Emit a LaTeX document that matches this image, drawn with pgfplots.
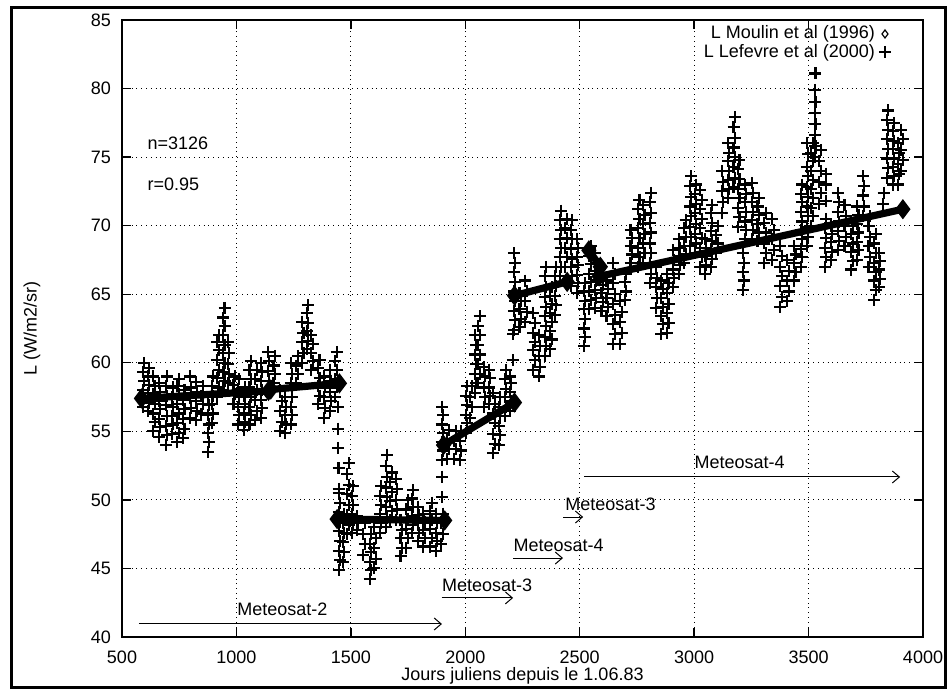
\documentclass[border=0pt]{standalone}
\usepackage{fontspec}
\setmainfont{Liberation Sans}
\usepackage{pgfplots}
\pgfplotsset{compat=1.18}
\usetikzlibrary{arrows.meta}

\begin{document}
\begin{tikzpicture}
\begin{axis}[
  scale only axis, width=400.5pt, height=308.5pt,
  xmin=500, xmax=4000, ymin=40, ymax=85,
  xtick={500,1000,...,4000}, ytick={40,45,...,85},
  grid=major, grid style={black, dotted, line width=0.5pt},
  tick align=inside, major tick length=4.5pt,
  tick style={black, line width=0.7pt},
  axis line style={line width=1pt},
  /pgf/number format/assume math mode=true,
  /pgf/number format/1000 sep={},
  ticklabel style={font=\fontsize{9}{10}\selectfont},
  xticklabel style={yshift=-3.5pt},
  yticklabel style={xshift=-2pt},
  xlabel={Jours juliens depuis le 1.06.83},
  ylabel={L (W/m2/sr)},
  xlabel style={font=\fontsize{9}{10}\selectfont, at={(axis description cs:0.5,0)}, anchor=north, yshift=-11.5pt},
  ylabel style={font=\fontsize{9}{10}\selectfont, at={(axis description cs:0,0.5)}, anchor=center, rotate=0, yshift=45pt},
  legend plot pos=right, legend cell align=right,
  legend style={draw=none, fill=none, at={(0.968,1.004)}, anchor=north east,
    font=\fontsize{9}{10}\selectfont, row sep=-3pt},
  clip=false,
]
\addlegendimage{only marks, mark=diamond, mark size=2pt, black, mark options={line width=0.6pt}}
\addlegendentry{L Moulin et al (1996)}
\addlegendimage{only marks, mark=+, mark size=3pt, black, mark options={line width=0.6pt}}
\addlegendentry{L Lefevre et al (2000)}

% Lefevre et al (2000)
\addplot[only marks, mark=+, mark size=3pt, black, mark options={line width=1.05pt}, forget plot] coordinates {
(592,56.8)(598,57.4)(592,58.0)(598,58.7)(592,59.3)(598,60.0)
(612,56.5)(618,57.1)(612,57.8)(618,58.4)(612,59.0)(618,59.6)
(637,55.0)(643,55.7)(637,56.3)(643,57.0)(637,57.7)(643,58.3)(637,59.0)
(662,54.6)(668,55.3)(662,55.9)(668,56.6)(662,57.2)(668,57.9)(662,58.5)
(692,54.0)(698,54.7)(692,55.4)(698,56.1)(692,56.9)(698,57.6)(692,58.3)(698,59.0)
(717,54.8)(723,55.5)(717,56.1)(723,56.8)(717,57.5)(723,58.2)
(742,54.2)(748,54.9)(742,55.6)(748,56.3)(742,57.0)(748,57.7)(742,58.3)(748,58.8)
(767,54.5)(773,55.2)(767,55.9)(773,56.6)(767,57.3)(773,58.0)
(797,56.0)(803,56.7)(797,57.4)(803,58.2)(797,59.0)
(822,55.8)(828,56.5)(822,57.2)(828,57.9)(822,58.6)
(847,56.3)(853,57.0)(847,57.6)(853,58.3)
(875,53.5)(879,54.2)(875,54.9)(879,55.5)(875,56.2)(879,56.9)(875,57.5)
(892,55.6)(898,56.3)(892,57.0)(898,57.6)(892,58.3)(898,59.0)
(917,57.5)(923,58.2)(917,58.9)(923,59.5)(917,60.2)(923,60.9)(917,61.5)(923,62.0)
(942,58.0)(948,58.7)(942,59.3)(948,60.0)(942,60.7)(948,61.3)(942,62.0)(948,62.7)(942,63.3)(948,64.0)
(962,58.5)(968,59.2)(962,59.9)(968,60.7)(962,61.5)
(987,57.0)(993,57.7)(987,58.4)(993,59.0)
(1007,55.5)(1013,56.2)(1007,56.8)(1013,57.5)(1007,58.1)(1013,58.8)
(1032,55.1)(1038,55.7)(1032,56.3)(1038,57.0)(1032,57.6)(1038,58.2)
(1057,55.5)(1063,56.2)(1057,56.8)(1063,57.5)(1057,58.2)(1063,58.8)(1057,59.5)(1063,60.1)
(1082,55.8)(1088,56.5)(1082,57.3)(1088,58.0)(1082,58.8)(1088,59.5)
(1107,56.0)(1113,56.7)(1107,57.3)(1113,58.0)(1107,58.7)(1113,59.3)(1107,60.0)
(1137,58.0)(1143,58.7)(1137,59.4)(1143,60.1)(1137,60.8)
(1162,58.5)(1168,59.2)(1162,59.8)(1168,60.5)
(1192,55.0)(1198,55.7)(1192,56.5)(1198,57.2)(1192,58.0)
(1212,54.9)(1218,55.5)(1212,56.2)(1218,56.8)(1212,57.5)
(1237,55.5)(1243,56.2)(1237,56.8)(1243,57.5)(1237,58.5)(1243,59.2)(1237,60.0)
(1262,58.5)(1268,59.2)(1262,59.8)(1268,60.5)
(1287,60.0)(1293,60.7)(1287,61.5)(1293,62.2)(1287,63.0)
(1307,61.0)(1313,61.6)(1307,62.3)(1313,62.9)(1307,63.6)(1313,64.2)
(1327,59.5)(1333,60.1)(1327,60.7)(1333,61.4)(1327,62.0)
(1357,57.0)(1363,57.6)(1357,58.3)(1363,58.9)(1357,59.6)(1363,60.2)
(1382,56.0)(1388,56.7)(1382,57.5)(1388,58.2)(1382,59.0)
(1407,56.5)(1413,57.2)(1407,57.9)(1413,58.7)(1407,59.5)
(1432,57.5)(1438,58.2)(1432,58.8)(1438,59.5)(1432,60.1)(1438,60.8)
(1442,56.8)(1444,55.2)(1445,53.8)(1446,52.3)(1447,50.8)
(1447,44.9)(1453,45.6)(1447,46.3)(1453,47.0)(1447,47.7)(1453,48.4)(1447,49.1)(1453,49.8)(1447,50.5)
(1465,45.5)(1471,46.2)(1465,46.9)(1471,47.6)(1465,48.3)(1471,49.0)
(1484,47.5)(1490,48.2)(1484,48.9)(1490,49.6)(1484,50.4)(1490,51.1)(1484,51.9)(1490,52.7)
(1504,47.6)(1510,48.3)(1504,49.0)(1510,49.6)(1504,50.3)(1510,51.0)
(1527,47.8)(1533,48.3)(1527,48.8)
(1555,46.0)(1561,46.8)(1555,47.5)(1561,48.3)
(1582,44.2)(1588,44.9)(1582,45.5)(1588,46.2)(1582,46.8)(1588,47.5)
(1602,45.0)(1608,45.7)(1602,46.5)(1608,47.2)(1602,48.0)
(1627,47.6)(1633,48.3)(1627,49.0)(1633,49.6)(1627,50.3)(1633,51.0)
(1652,48.0)(1658,48.7)(1652,49.5)(1658,50.2)(1652,50.9)(1658,51.7)(1652,52.5)(1658,53.3)
(1672,48.5)(1678,49.2)(1672,49.9)(1678,50.6)(1672,51.3)(1678,52.0)
(1697,48.5)(1703,49.3)(1697,50.0)(1703,50.8)(1697,51.5)
(1717,45.9)(1723,46.5)(1717,47.2)(1723,47.8)(1717,48.5)
(1742,46.5)(1748,47.2)(1742,47.9)(1748,48.6)(1742,49.3)(1748,50.0)
(1767,47.6)(1773,48.2)(1767,48.8)(1773,49.5)(1767,50.1)(1773,50.7)
(1792,47.0)(1798,47.6)(1792,48.3)(1798,48.9)(1792,49.5)
(1817,46.6)(1823,47.2)(1817,47.8)(1823,48.4)(1817,49.0)
(1847,46.6)(1853,47.2)(1847,47.9)(1853,48.5)(1847,49.2)(1853,49.8)
(1872,46.3)(1878,47.0)(1872,47.6)(1878,48.3)(1872,49.0)
(1895,46.8)(1901,47.5)(1895,48.3)(1901,49.0)
(1897,50.2)(1899,51.7)
(1897,52.9)(1903,53.6)(1897,54.2)(1903,54.9)(1897,55.5)(1903,56.2)(1900,56.8)
(1922,53.0)(1928,53.7)(1922,54.4)(1928,55.1)
(1952,53.0)(1958,53.7)(1952,54.3)(1958,55.0)
(1977,52.9)(1983,53.6)(1977,54.3)(1983,55.0)
(2002,54.9)(2008,55.6)(2002,56.2)(2008,56.9)(2002,57.6)(2008,58.3)
(2022,56.0)(2028,56.8)(2022,57.5)(2028,58.3)
(2042,57.8)(2048,58.5)(2042,59.2)(2048,59.9)(2042,60.6)(2048,61.3)(2042,62.0)
(2057,58.5)(2063,59.2)(2057,59.9)(2063,60.6)(2057,61.3)(2063,62.0)(2057,62.7)(2063,63.4)
(2082,56.8)(2088,57.5)(2082,58.2)(2088,59.0)(2082,59.7)
(2102,57.0)(2108,57.6)(2102,58.2)(2108,58.9)(2102,59.5)
(2122,53.4)(2128,54.1)(2122,54.8)(2128,55.6)(2122,56.3)(2128,57.0)(2122,57.8)
(2147,54.0)(2153,54.7)(2147,55.4)(2153,56.1)(2147,56.8)(2153,57.5)
(2172,56.1)(2178,56.8)(2172,57.5)(2178,58.1)(2172,58.8)(2178,59.5)
(2195,56.5)(2201,57.2)(2195,57.9)(2201,58.5)(2195,59.0)
(2208,60.2)(2210,62.1)
(2212,62.4)(2218,63.1)(2212,63.8)(2218,64.5)(2212,65.2)(2218,65.9)(2212,66.6)(2218,67.3)(2212,68.0)
(2237,62.6)(2243,63.2)(2237,63.9)(2243,64.5)(2237,65.1)
(2262,63.0)(2268,63.7)(2262,64.5)(2268,65.2)(2262,66.0)
(2297,59.5)(2303,60.2)(2297,60.9)(2303,61.5)(2297,62.2)(2303,62.9)(2297,63.6)
(2322,59.0)(2328,59.7)(2322,60.5)(2328,61.2)(2322,62.0)
(2347,60.5)(2353,61.2)(2347,61.9)(2353,62.7)(2347,63.4)(2353,64.1)(2347,64.8)(2353,65.5)(2347,66.3)(2353,67.0)
(2372,61.0)(2378,61.7)(2372,62.3)(2378,63.0)(2372,63.6)(2378,64.3)(2372,64.9)(2378,65.5)
(2392,63.5)(2398,64.2)(2392,64.9)(2398,65.6)(2392,66.3)(2398,67.0)
(2412,66.3)(2418,67.0)(2412,67.7)(2418,68.4)(2412,69.0)(2418,69.7)(2412,70.4)(2418,71.1)
(2437,67.0)(2443,67.7)(2437,68.4)(2443,69.1)(2437,69.8)(2443,70.5)
(2462,65.6)(2468,66.3)(2462,67.0)(2468,67.6)(2462,68.3)(2468,69.0)(2462,69.7)(2468,70.4)
(2487,65.1)(2493,65.8)(2487,66.4)(2493,67.1)(2487,67.7)(2493,68.4)(2487,69.0)
(2520,61.2)(2524,61.9)(2520,62.5)(2524,63.2)(2520,63.9)(2524,64.5)(2520,65.2)(2524,65.8)
(2542,63.9)(2548,64.6)(2542,65.2)(2548,65.9)(2542,66.5)(2548,67.2)(2542,67.8)(2548,68.5)
(2567,64.0)(2573,64.7)(2567,65.3)(2573,66.0)(2567,66.7)(2573,67.3)(2567,68.0)
(2595,63.8)(2601,64.4)(2595,65.1)(2601,65.7)(2595,66.3)
(2617,63.4)(2623,64.1)(2617,64.7)(2623,65.4)(2617,66.0)
(2647,61.4)(2653,62.1)(2647,62.8)(2653,63.5)(2647,64.3)(2653,65.0)(2647,65.8)(2653,66.5)(2647,67.3)
(2677,61.4)(2683,62.2)(2677,63.0)(2683,63.7)(2677,64.5)
(2697,64.6)(2703,65.2)(2697,65.9)(2703,66.5)
(2722,67.3)(2728,67.9)(2722,68.5)(2728,69.1)(2722,69.7)
(2755,67.0)(2761,67.7)(2755,68.4)(2761,69.1)(2755,69.8)(2761,70.5)(2755,71.2)(2761,71.9)
(2777,67.3)(2783,68.0)(2777,68.7)(2783,69.4)(2777,70.1)(2783,70.8)(2777,71.5)
(2807,65.8)(2813,66.5)(2807,67.3)(2813,68.0)(2807,68.7)(2813,69.5)(2807,70.2)(2813,70.9)(2807,71.7)(2813,72.4)
(2832,64.0)(2838,64.7)(2832,65.5)(2838,66.2)(2832,67.0)
(2857,62.1)(2863,62.8)(2857,63.4)(2863,64.1)(2857,64.7)(2863,65.4)(2857,66.0)
(2882,62.2)(2888,62.9)(2882,63.6)(2888,64.3)(2882,65.1)(2888,65.8)(2882,66.5)
(2907,65.5)(2913,66.2)(2907,66.8)(2913,67.5)(2907,68.2)
(2932,66.5)(2938,67.1)(2932,67.8)(2938,68.4)(2932,69.0)
(2957,67.3)(2963,67.9)(2957,68.5)(2963,69.2)(2957,69.8)(2963,70.4)
(2982,68.5)(2988,69.2)(2982,69.9)(2988,70.7)(2982,71.4)(2988,72.1)(2982,72.9)(2988,73.6)
(3002,68.0)(3008,68.7)(3002,69.4)(3008,70.1)(3002,70.9)(3008,71.6)(3002,72.3)(3008,73.0)
(3027,67.0)(3033,67.7)(3027,68.4)(3033,69.1)(3027,69.8)(3033,70.5)(3027,71.2)(3033,71.9)(3027,72.6)
(3047,66.5)(3053,67.1)(3047,67.8)(3053,68.4)(3047,69.0)
(3072,67.0)(3078,67.6)(3072,68.3)(3078,68.9)(3072,69.6)(3078,70.2)(3072,70.9)(3078,71.5)
(3097,68.0)(3103,68.7)(3097,69.3)(3103,70.0)
(3122,70.9)(3128,71.7)(3122,72.5)(3128,73.2)(3122,74.0)
(3147,72.0)(3153,72.7)(3147,73.3)(3153,74.0)(3147,74.7)(3153,75.3)(3147,76.0)
(3172,72.8)(3178,73.5)(3172,74.3)(3178,75.0)(3172,75.7)(3178,76.4)(3172,77.2)(3178,77.9)
(3192,69.9)(3198,70.6)(3192,71.3)(3198,72.0)(3192,72.7)(3198,73.4)(3192,74.1)(3198,74.8)
(3212,65.3)(3218,66.0)(3212,66.6)(3218,67.3)(3212,68.0)
(3222,69.0)(3228,69.7)(3222,70.3)(3228,71.0)(3222,71.7)(3228,72.3)(3222,73.0)
(3252,69.0)(3258,69.7)(3252,70.4)(3258,71.0)(3252,71.7)(3258,72.4)(3252,73.1)
(3277,68.9)(3283,69.5)(3277,70.1)(3283,70.8)(3277,71.4)(3283,72.0)
(3307,67.3)(3313,68.0)(3307,68.7)(3313,69.5)(3307,70.2)(3313,70.9)
(3342,67.5)(3348,68.2)(3342,69.0)(3348,69.7)(3342,70.5)
(3377,64.1)(3383,64.8)(3377,65.6)(3383,66.3)(3377,67.0)(3383,67.8)(3377,68.5)
(3407,64.5)(3413,65.2)(3407,66.0)(3413,66.7)(3407,67.5)
(3437,66.0)(3443,66.6)(3437,67.3)(3443,67.9)(3437,68.5)
(3467,67.0)(3473,67.7)(3467,68.3)(3473,69.0)(3467,69.7)(3473,70.3)(3467,71.0)(3473,71.7)(3467,72.3)(3473,73.0)
(3492,68.5)(3498,69.2)(3492,69.9)(3498,70.7)(3492,71.4)(3498,72.1)(3492,72.8)(3498,73.6)(3492,74.3)(3498,75.2)(3492,76.0)
(3512,70.0)(3518,70.7)(3512,71.3)(3518,72.0)(3512,72.7)(3518,73.3)(3512,74.0)(3518,74.7)(3512,75.3)(3518,76.0)
(3528,75.0)(3530,75.8)(3528,76.6)(3530,77.4)(3528,78.2)(3530,79.0)(3529,79.9)(3530,81.1)
(3547,71.6)(3553,72.4)(3547,73.2)(3553,74.0)(3547,74.7)(3553,75.5)
(3572,67.0)(3578,67.7)(3572,68.4)(3578,69.1)(3572,69.8)(3578,70.5)(3575,71.8)(3578,73.0)(3575,73.8)
(3597,67.5)(3603,68.1)(3597,68.8)(3603,69.4)(3597,70.0)
(3627,68.2)(3633,68.9)(3627,69.6)(3633,70.3)(3627,71.0)(3633,71.7)(3627,72.4)
(3657,68.5)(3663,69.2)(3657,70.0)(3663,70.7)(3657,71.5)
(3687,66.8)(3693,67.4)(3687,68.1)(3693,68.7)(3687,69.4)(3693,70.0)
(3712,67.5)(3718,68.2)(3712,68.8)(3718,69.5)(3712,70.1)(3718,70.8)(3712,71.4)
(3737,70.7)(3743,71.4)(3737,72.2)(3743,72.9)(3737,73.6)
(3762,67.0)(3768,67.7)(3762,68.5)(3768,69.2)(3762,70.0)(3768,70.7)
(3787,64.6)(3793,65.3)(3787,66.0)(3793,66.6)(3787,67.3)(3793,68.0)(3787,68.7)(3793,69.4)
(3807,65.5)(3813,66.1)(3807,66.8)(3813,67.4)(3807,68.0)
(3826,71.6)(3828,72.4)
(3842,73.5)(3848,74.2)(3842,74.9)(3848,75.6)(3842,76.3)(3848,77.0)(3842,77.7)(3848,78.4)
(3867,73.0)(3873,73.6)(3867,74.3)(3873,74.9)(3867,75.6)(3873,76.2)(3867,76.9)(3873,77.5)
(3889,73.0)(3895,73.8)(3889,74.5)(3895,75.3)(3889,76.0)
(3905,74.0)(3911,74.8)(3905,75.5)(3911,76.3)(3905,77.0)
};

% Moulin et al (1996) trend segments
\pgfplotsset{moulin/.style={black, line width=3.6pt, mark=diamond*, mark size=2.1pt, forget plot}}
\addplot[moulin] coordinates {(585,57.4)(1140,57.95)};
\addplot[moulin] coordinates {(1150,58.05)(1450,58.5)};
\addplot[moulin] coordinates {(1440,48.6)(1910,48.5)};
\addplot[moulin] coordinates {(1905,54.0)(2215,57.1)};
\addplot[moulin] coordinates {(2215,64.9)(2445,65.9)};
\addplot[moulin] coordinates {(2540,68.2)(2590,67.0)};
\addplot[moulin] coordinates {(2585,66.3)(3912,71.2)};

% annotations
\node[anchor=west, inner sep=0pt, font=\fontsize{9}{10}\selectfont] at (axis cs:610,76.0) {n=3126};
\node[anchor=west, inner sep=0pt, font=\fontsize{9}{10}\selectfont] at (axis cs:610,73.0) {r=0.95};

\tikzset{metarrow/.style={-{Straight Barb[length=3.5pt,width=6pt]}, line width=0.5pt}}
\draw[metarrow] (axis cs:574,40.95) -- (axis cs:1898,40.95);
\node[anchor=west, inner sep=0pt, font=\fontsize{9}{10}\selectfont] at (axis cs:1002,42.0) {Meteosat-2};
\draw[metarrow] (axis cs:1897,42.85) -- (axis cs:2209,42.85);
\node[anchor=west, inner sep=0pt, font=\fontsize{9}{10}\selectfont] at (axis cs:1897,43.8) {Meteosat-3};
\draw[metarrow] (axis cs:2209,45.76) -- (axis cs:2427,45.76);
\node[anchor=west, inner sep=0pt, font=\fontsize{9}{10}\selectfont] at (axis cs:2209,46.7) {Meteosat-4};
\draw[metarrow] (axis cs:2427,48.75) -- (axis cs:2515,48.75);
\node[anchor=west, inner sep=0pt, font=\fontsize{9}{10}\selectfont] at (axis cs:2436,49.7) {Meteosat-3};
\draw[metarrow] (axis cs:2519,51.67) -- (axis cs:3900,51.67);
\node[anchor=west, inner sep=0pt, font=\fontsize{9}{10}\selectfont] at (axis cs:3000,52.7) {Meteosat-4};
\end{axis}
\draw[line width=1.5pt] ([shift={(-55pt,-25pt)}]current axis.south west) rectangle ([shift={(11pt,6pt)}]current axis.north east);
\pgfresetboundingbox
\path ([shift={(-61pt,-28pt)}]current axis.south west) rectangle ([shift={(12.5pt,10pt)}]current axis.north east);
\end{tikzpicture}
\end{document}
